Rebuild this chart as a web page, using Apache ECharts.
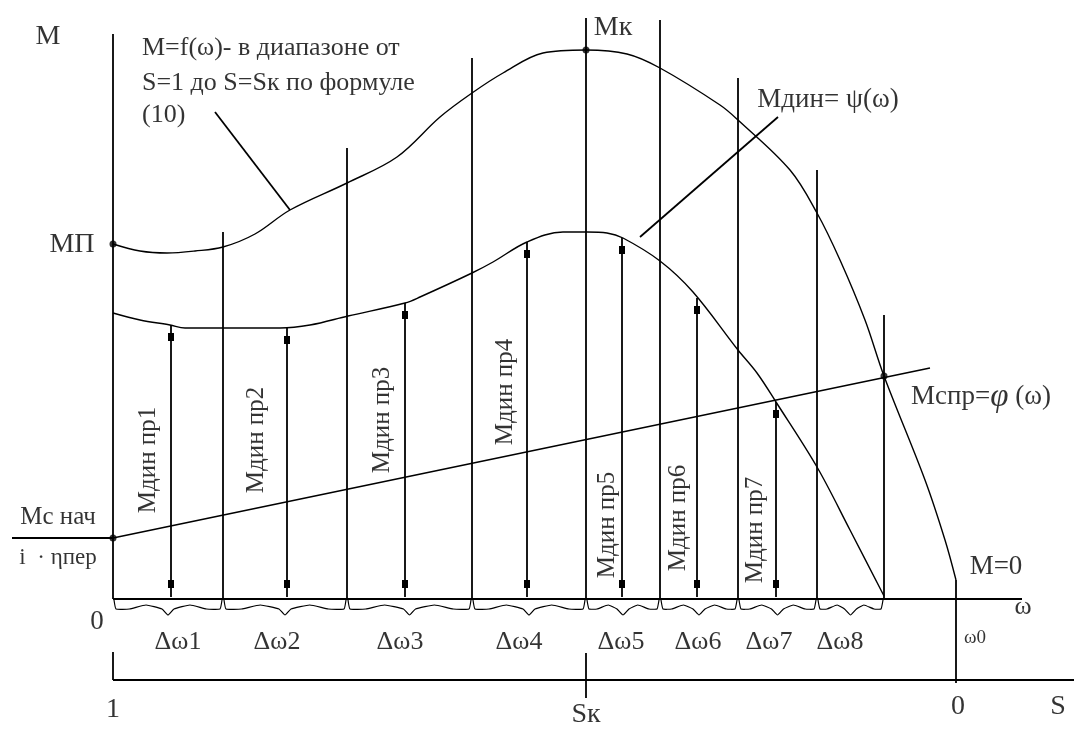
<!DOCTYPE html>
<html>
<head>
<meta charset="utf-8">
<script src="https://cdn.jsdelivr.net/npm/echarts@6/dist/echarts.min.js"></script>
<style>
html, body { margin: 0; padding: 0; background: #fff; }
#chart { width: 1074px; height: 729px; }
</style>
</head>
<body>
<div id="chart"></div>
<script>
// ω и M в условных единицах, начало координат в точке 0
// M = f(ω) - механическая характеристика
const upperCurve = [
  [0, 355], [27, 348], [54, 346], [82, 348], [110, 352], [142, 365], [177, 389],
  [234, 416], [284, 442], [327, 482], [359, 506], [390, 526], [430, 546], [473, 549],
  [514, 545], [547, 531], [607, 494], [625, 479], [677, 429], [704, 386], [727, 339],
  [752, 279], [771, 223], [812, 119], [832, 59], [843, 19]
];
// Мдин = ψ(ω)
const lowerCurve = [
  [0, 286], [27, 279], [57, 274], [72, 271], [167, 271], [197, 274], [235, 283],
  [292, 296], [307, 302], [359, 326], [380, 337], [414, 357], [450, 367], [474, 367],
  [494, 366], [510, 361], [547, 338], [580, 307], [625, 249], [644, 226], [663, 197],
  [704, 132], [737, 69], [771, 3]
];
// Мспр = φ(ω)
const staticLine = [[0, 61], [817, 231]];
// границы интервалов Δω и высота вертикалей
const stepBounds = [0, 110, 234, 359, 473, 547, 625, 704, 771];
const stepTops = [565, 367, 451, 541, 581, 579, 521, 429, 284];
const stepNames = ['Δω1', 'Δω2', 'Δω3', 'Δω4', 'Δω5', 'Δω6', 'Δω7', 'Δω8'];
// Мдин пр по интервалам
const arrowOmega = [58, 174, 292, 414, 509, 584, 663];
const arrowTop = [274, 271, 296, 357, 361, 301, 197];
const arrowNames = ['Мдин пр1', 'Мдин пр2', 'Мдин пр3', 'Мдин пр4', 'Мдин пр5', 'Мдин пр6', 'Мдин пр7'];
const omega0 = 843;
const keyPoints = [[0, 355], [473, 549], [0, 61], [771, 223]]; // Мп, Мк, Мс нач, Мспр

const FONT = '"Liberation Serif", "DejaVu Serif", serif';

// вспомогательные линии (оси, выноски, засечки)
const segments = [
  [[0, 0], [909, 0]],        // ось ω
  [[0, -81], [961, -81]],    // ось S
  [[0, -53], [0, -81]],
  [[473, -54], [473, -99]],  // Sк
  [[omega0, 19], [omega0, -84]],
  [[-101, 61], [0, 61]],     // дробь Мс нач / i·ηпер
  [[102, 487], [177, 389]],  // выноска f(ω)
  [[527, 362], [665, 482]]   // выноска ψ(ω)
];

// подписи: [текст, ω, M, размер, поворот, выравнивание]
const labels = [
  ['M', -65, 562, 28, 0, 'center'],
  ['МП', -41, 354, 28, 0, 'center'],
  ['Мс нач', -55, 82, 25, 0, 'center'],
  ['i  · ηпер', -55, 41, 23, 0, 'center'],
  ['0', -16, -23, 27, 0, 'center'],
  ['M=f(ω)- в диапазоне от', 29, 551, 26, 0, 'left'],
  ['S=1 до S=Sк по формуле', 29, 516, 26, 0, 'left'],
  ['(10)', 29, 484, 26, 0, 'left'],
  ['Мк', 500, 571, 28, 0, 'center'],
  ['Мдин= ψ(ω)', 715, 499, 27, 0, 'center'],
  ['{a|Мспр=}{b|φ}{a| (ω)}', 868, 202, 27, 0, 'center'],
  ['M=0', 883, 32, 27, 0, 'center'],
  ['ω', 910, -8, 26, 0, 'center'],
  ['ω0', 862, -39, 19, 0, 'center'],
  ['1', 0, -111, 28, 0, 'center'],
  ['Sк', 473, -116, 28, 0, 'center'],
  ['0', 845, -108, 28, 0, 'center'],
  ['S', 945, -108, 28, 0, 'center']
];
const stepLabelX = [65, 164, 287, 406, 508, 585, 656, 727];
const arrowLabelPos = [[35, 139], [143, 159], [269, 179], [392, 207], [494, 74], [565, 81], [642, 69]];

stepNames.forEach((t, i) => labels.push([t, stepLabelX[i], -43, 26, 0, 'center']));
arrowNames.forEach((t, i) => labels.push([t, arrowLabelPos[i][0], arrowLabelPos[i][1], 25, 90, 'center']));

const chart = echarts.init(document.getElementById('chart'));

function renderStep(params, api) {
  const top = api.coord([api.value(0), api.value(1)]);
  const bot = api.coord([api.value(0), 0]);
  return {
    type: 'line',
    shape: { x1: top[0], y1: top[1], x2: bot[0], y2: bot[1] },
    style: { stroke: '#000', lineWidth: 1.8 }
  };
}

function renderArrow(params, api) {
  const top = api.coord([api.value(0), api.value(1)]);
  const bot = api.coord([api.value(0), 0]);
  return {
    type: 'group',
    children: [
      { type: 'line', shape: { x1: top[0], y1: top[1], x2: bot[0], y2: bot[1] - 2 }, style: { stroke: '#000', lineWidth: 1.8 } },
      { type: 'rect', shape: { x: top[0] - 3, y: top[1] + 8, width: 6, height: 8 }, style: { fill: '#000' } },
      { type: 'rect', shape: { x: bot[0] - 3, y: bot[1] - 19, width: 6, height: 8 }, style: { fill: '#000' } }
    ]
  };
}

// фигурная скобка под интервалом
function renderBrace(params, api) {
  const a = api.coord([api.value(0), 0]);
  const b = api.coord([api.value(1), 0]);
  const y = a[1];
  const m = (a[0] + b[0]) / 2;
  const pts = [
    [a[0] + 1, y + 1], [a[0] + 3, y + 10], [a[0] + (m - a[0]) * 0.3, y + 10],
    [a[0] + (m - a[0]) * 0.6, y + 6], [m - 6, y + 10], [m, y + 16], [m + 6, y + 10],
    [m + (b[0] - m) * 0.4, y + 6], [m + (b[0] - m) * 0.7, y + 10], [b[0] - 3, y + 10], [b[0] - 1, y + 1]
  ];
  return {
    type: 'polyline',
    shape: { points: pts, smooth: 0.12 },
    style: { stroke: '#000', fill: null, lineWidth: 1.2 }
  };
}

const braceData = [];
for (let i = 0; i < stepBounds.length - 1; i++) {
  braceData.push([stepBounds[i], stepBounds[i + 1]]);
}

const series = [];

segments.forEach(seg => {
  series.push({
    type: 'line',
    data: seg,
    symbol: 'none',
    silent: true,
    lineStyle: { color: '#000', width: 1.8 }
  });
});

series.push({
  type: 'custom',
  renderItem: renderStep,
  data: stepBounds.map((w, i) => [w, stepTops[i]]),
  silent: true
});

series.push({
  type: 'custom',
  renderItem: renderArrow,
  data: arrowOmega.map((w, i) => [w, arrowTop[i]]),
  silent: true
});

series.push({
  type: 'custom',
  renderItem: renderBrace,
  encode: { x: [0, 1] },
  data: braceData,
  silent: true
});

series.push({
  name: 'M=f(ω)',
  type: 'line',
  data: upperCurve,
  smooth: 0.35,
  symbol: 'none',
  lineStyle: { color: '#000', width: 1.4 }
});

series.push({
  name: 'Мдин=ψ(ω)',
  type: 'line',
  data: lowerCurve,
  smooth: 0.35,
  symbol: 'none',
  lineStyle: { color: '#000', width: 1.4 }
});

series.push({
  name: 'Мспр=φ(ω)',
  type: 'line',
  data: staticLine,
  symbol: 'none',
  lineStyle: { color: '#000', width: 1.6 }
});

series.push({
  type: 'scatter',
  data: keyPoints,
  symbolSize: 7,
  itemStyle: { color: '#000' },
  z: 5
});

series.push({
  type: 'scatter',
  symbolSize: 0,
  silent: true,
  z: 6,
  data: labels.map(l => ({
    value: [l[1], l[2]],
    label: {
      show: true,
      formatter: l[0],
      fontSize: l[3],
      rotate: l[4],
      position: l[5] === 'left' ? 'right' : 'inside',
      distance: 0,
      align: l[5],
      verticalAlign: 'middle',
      color: '#000',
      fontFamily: FONT,
      rich: {
        a: { fontSize: l[3], fontFamily: FONT, color: '#000' },
        b: { fontSize: l[3] + 6, fontStyle: 'italic', fontFamily: FONT, color: '#000' }
      }
    }
  }))
});

chart.setOption({
  animation: false,
  backgroundColor: '#fff',
  textStyle: { fontFamily: FONT },
  grid: { left: 0, right: 0, top: 0, bottom: 0 },
  xAxis: { type: 'value', min: -113, max: 961, show: false },
  yAxis: { type: 'value', min: -130, max: 599, show: false },
  series: series
});
</script>
</body>
</html>
